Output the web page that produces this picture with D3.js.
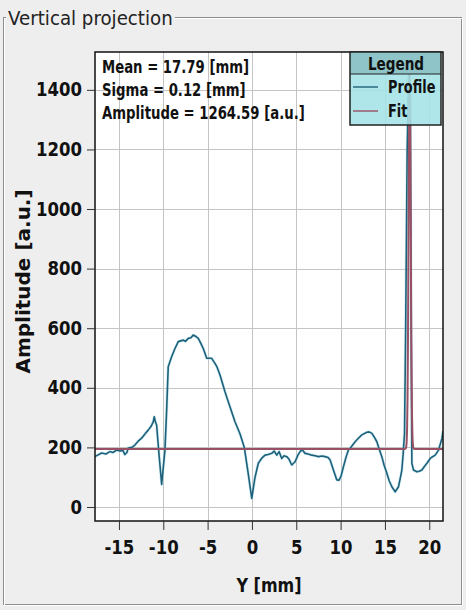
<!DOCTYPE html>
<html>
<head>
<meta charset="utf-8">
<script src="https://cdn.jsdelivr.net/npm/d3@7"></script>
<style>
  html, body { margin: 0; padding: 0; background: #eeeeee; }
  svg { display: block; }
  svg text { font-family: "DejaVu Sans", sans-serif; }
</style>
</head>
<body>
<svg id="chart" width="466" height="610"></svg>
<script>
// Measured profile: position along Y [mm] and amplitude [a.u.]
const positions = [
  -17.72, -16.96, -16.47, -16.02, -15.68, -15.26, -14.89, -14.55, -14.33, -14.10,
  -13.96, -13.54, -13.20, -12.86, -12.44, -12.07, -11.70, -11.39, -11.13, -11.02,
  -10.88, -10.75, -10.49, -10.18, -10.04, -9.81, -9.62, -9.44, -9.06, -8.68,
  -8.31, -7.75, -7.50, -7.18, -6.88, -6.62, -6.31, -6.05, -5.75, -5.49,
  -5.10, -4.54, -4.17, -3.94, -3.60, -3.04, -2.47, -1.91, -1.34, -0.86,
  -0.41, -0.02, 0.35, 0.72, 1.14, 1.48, 1.82, 2.24, 2.50, 2.80,
  3.06, 3.36, 3.62, 3.93, 4.19, 4.49, 4.87, 5.20, 5.43, 5.66,
  6.00, 6.33, 6.75, 7.12, 7.50, 7.91, 8.25, 8.59, 8.82, 9.19,
  9.57, 9.83, 10.06, 10.32, 10.62, 10.88, 11.08, 11.64, 11.98, 12.40,
  12.96, 13.22, 13.53, 13.79, 14.09, 14.35, 14.65, 14.91, 15.22, 15.48,
  15.78, 16.16, 16.53, 16.72, 16.91, 17.06, 17.21, 17.34, 17.51, 17.68,
  17.85, 17.96, 18.04, 18.22, 18.61, 18.87, 19.17, 19.43, 19.74, 20.11,
  20.33, 20.67, 21.05, 21.43, 21.55
];
const amplitudes = [
  169, 181, 178, 186, 183, 191, 188, 190, 176, 183,
  198, 200, 208, 220, 231, 245, 258, 270, 286, 303,
  285, 275, 180, 76, 120, 191, 325, 471, 504, 532,
  555, 560, 556, 566, 568, 577, 572, 566, 548, 532,
  499, 499, 482, 470, 443, 387, 336, 286, 245, 200,
  110, 29, 100, 147, 165, 174, 176, 180, 188, 174,
  186, 163, 172, 169, 160, 141, 152, 175, 186, 192,
  180, 178, 174, 172, 169, 171, 169, 166, 158, 124,
  91, 90, 105, 135, 168, 191, 197, 219, 230, 242,
  251, 252, 247, 235, 219, 195, 169, 140, 113, 88,
  68, 51, 68, 95, 124, 180, 247, 600, 1200, 1450,
  1400, 600, 147, 124, 118, 120, 124, 135, 147, 163,
  168, 174, 191, 230, 255
];

// Gaussian fit parameters (offset is the flat background level)
const fitMean = 17.79;
const fitSigma = 0.12;
const fitAmplitude = 1264.59;
const fitOffset = 195;

const xTicks = [-15, -10, -5, 0, 5, 10, 15, 20];
const yTicks = [0, 200, 400, 600, 800, 1000, 1200, 1400];
const statLines = [
  "Mean = 17.79 [mm]",
  "Sigma = 0.12 [mm]",
  "Amplitude = 1264.59 [a.u.]"
];
const legendItems = ["Profile", "Fit"];

const profileColor = "#1d6079";
const fitColor = "#9a5064";

// Narrow a text run horizontally around its x anchor (condensed look)
function squeeze(sel, factor) {
  sel.each(function () {
    const ax = +(this.getAttribute("x") || 0);
    const prev = this.getAttribute("transform") || "";
    d3.select(this).attr("transform",
      `${prev} translate(${ax},0) scale(${factor},1) translate(${-ax},0)`);
  });
}

const svg = d3.select("#chart");
const plot = { left: 95, right: 443, top: 52, bottom: 521 };

const x = d3.scaleLinear().domain([-17.7, 21.55]).range([plot.left, plot.right]);
const y = d3.scaleLinear().domain([-47, 1527]).range([plot.bottom, plot.top]);

// Titled group frame
svg.append("rect")
  .attr("x", 3.5).attr("y", 17.5).attr("width", 458).attr("height", 587)
  .attr("fill", "none").attr("stroke", "#8e8e8e").attr("stroke-width", 1);
svg.append("rect")
  .attr("x", 4.5).attr("y", 18.5).attr("width", 458).attr("height", 587)
  .attr("fill", "none").attr("stroke", "#ffffff").attr("stroke-width", 1);
const title = svg.append("text")
  .attr("x", 8).attr("y", 25)
  .attr("font-size", 20).attr("fill", "#222")
  .text("Vertical projection");
const titleW = title.node().getComputedTextLength() * 0.91;
squeeze(title, 0.91);
svg.insert("rect", "text")
  .attr("x", 6).attr("y", 5).attr("width", titleW + 4).attr("height", 24)
  .attr("fill", "#eeeeee");

// Plot background
svg.append("rect")
  .attr("x", plot.left).attr("y", plot.top)
  .attr("width", plot.right - plot.left).attr("height", plot.bottom - plot.top)
  .attr("fill", "#ffffff");

// Grid
const grid = svg.append("g").attr("stroke", "#c4c4c4").attr("stroke-width", 1);
grid.selectAll("line.v").data(xTicks).join("line")
  .attr("x1", d => Math.round(x(d)) + 0.5).attr("x2", d => Math.round(x(d)) + 0.5)
  .attr("y1", plot.top).attr("y2", plot.bottom);
grid.selectAll("line.h").data(yTicks).join("line")
  .attr("y1", d => Math.round(y(d)) + 0.5).attr("y2", d => Math.round(y(d)) + 0.5)
  .attr("x1", plot.left).attr("x2", plot.right);

// Data lines
svg.append("clipPath").attr("id", "plotClip")
  .append("rect")
  .attr("x", plot.left).attr("y", plot.top)
  .attr("width", plot.right - plot.left).attr("height", plot.bottom - plot.top);

const profile = positions.map((p, i) => [p, amplitudes[i]]);
const line = d3.line().x(d => x(d[0])).y(d => y(d[1]));

const fitGrid = d3.range(-17.7, 21.56, 0.05);
const fit = fitGrid.map(p => [p,
  fitOffset + fitAmplitude * Math.exp(-((p - fitMean) ** 2) / (2 * fitSigma * fitSigma))]);

const lines = svg.append("g").attr("clip-path", "url(#plotClip)");
lines.append("path").datum(profile)
  .attr("d", line).attr("fill", "none")
  .attr("stroke", "#a8dcec").attr("stroke-width", 3).attr("stroke-opacity", 0.5)
  .attr("stroke-linejoin", "round");
lines.append("path").datum(profile)
  .attr("d", line).attr("fill", "none")
  .attr("stroke", profileColor).attr("stroke-width", 1.6)
  .attr("stroke-linejoin", "round");
lines.append("path").datum(fit)
  .attr("d", line).attr("fill", "none")
  .attr("stroke", fitColor).attr("stroke-width", 2);

// Plot border
svg.append("rect")
  .attr("x", plot.left).attr("y", plot.top)
  .attr("width", plot.right - plot.left).attr("height", plot.bottom - plot.top)
  .attr("fill", "none").attr("stroke", "#111").attr("stroke-width", 1.5);

// Axes
const yAxis = d3.axisLeft(y).tickValues(yTicks).tickSize(8).tickPadding(5)
  .tickFormat(d3.format("d"));
const xAxis = d3.axisBottom(x).tickValues(xTicks).tickSize(9).tickPadding(5)
  .tickFormat(d => d < 0 ? "-" + Math.abs(d) : String(d));

const gy = svg.append("g").attr("transform", `translate(${plot.left},0)`).call(yAxis);
const gx = svg.append("g").attr("transform", `translate(0,${plot.bottom})`).call(xAxis);
[gy, gx].forEach(g => {
  g.attr("font-family", null);
  g.select(".domain").remove();
  g.selectAll(".tick line").attr("stroke", "#333").attr("stroke-width", 1);
  g.selectAll(".tick text")
    .attr("font-size", 19).attr("font-weight", "bold").attr("fill", "#111");
  squeeze(g.selectAll(".tick text"), 0.87);
});
gx.selectAll(".tick text").attr("dy", "1.0em");

svg.append("text")
  .attr("transform", `translate(30,${(plot.top + plot.bottom) / 2 - 5}) rotate(-90)`)
  .attr("text-anchor", "middle")
  .attr("font-size", 20).attr("font-weight", "bold").attr("fill", "#111")
  .text("Amplitude [a.u.]");
const xTitle = svg.append("text")
  .attr("x", (plot.left + plot.right) / 2).attr("y", 592)
  .attr("text-anchor", "middle")
  .attr("font-size", 20).attr("font-weight", "bold").attr("fill", "#111")
  .text("Y [mm]");
squeeze(xTitle, 0.8);

// Fit statistics
const stats = svg.append("g").selectAll("text").data(statLines).join("text")
  .attr("x", 102).attr("y", (d, i) => 73 + i * 23)
  .attr("font-size", 17).attr("font-weight", "bold").attr("fill", "#111")
  .text(d => d);
squeeze(stats, 0.78);

// Legend
const lg = svg.append("g").attr("transform", "translate(350,52)");
lg.append("rect").attr("width", 91).attr("height", 73)
  .attr("fill", "#a4e2e6").attr("fill-opacity", 0.88);
lg.append("rect").attr("width", 91).attr("height", 22)
  .attr("fill", "#8cc2c4").attr("fill-opacity", 0.92);
lg.append("line").attr("x1", 0).attr("x2", 91).attr("y1", 22).attr("y2", 22)
  .attr("stroke", "#222").attr("stroke-width", 1.2);
lg.append("rect").attr("width", 91).attr("height", 73)
  .attr("fill", "none").attr("stroke", "#222").attr("stroke-width", 1.5);
const lgTitle = lg.append("text").attr("x", 46).attr("y", 18).attr("text-anchor", "middle")
  .attr("font-size", 17).attr("font-weight", "bold").attr("fill", "#111")
  .text("Legend");
squeeze(lgTitle, 0.8);
const items = lg.selectAll("g.item").data(legendItems).join("g")
  .attr("transform", (d, i) => `translate(0,${35 + i * 24})`);
items.append("line").attr("x1", 3).attr("x2", 28).attr("y1", 0).attr("y2", 0)
  .attr("stroke", (d, i) => i === 0 ? profileColor : fitColor).attr("stroke-width", 1.4);
const itemText = items.append("text").attr("x", 38).attr("y", 6)
  .attr("font-size", 17).attr("font-weight", "bold").attr("fill", "#111")
  .text(d => d);
squeeze(itemText, 0.76);
</script>
</body>
</html>
